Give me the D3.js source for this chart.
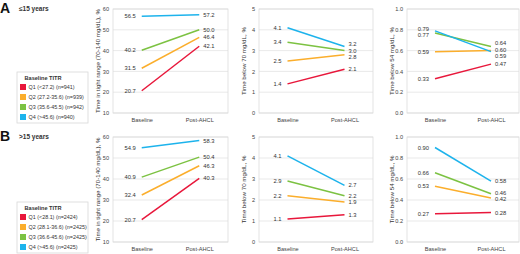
<!DOCTYPE html>
<html>
<head>
<meta charset="utf-8">
<script src="https://cdn.jsdelivr.net/npm/d3@7"></script>
<style>
  body { margin: 0; background: #fff; }
  svg { display: block; font-family: "Liberation Sans", Arial, sans-serif; }
</style>
</head>
<body>
<div id="chart"></div>
<script>
// quartile groups and colours
const groups = ["Q1", "Q2", "Q3", "Q4"];
const groupColors = ["#e8173b", "#fbae2c", "#7cc242", "#1db3ec"];
const timepoints = ["Baseline", "Post-AHCL"];

const legendTitle = "Baseline TITR";
const legendA = ["Q1 (<27.2) (n=941)", "Q2 (27.2-35.6) (n=939)", "Q3 (35.6-45.5) (n=942)", "Q4 (>45.6) (n=940)"];
const legendB = ["Q1 (<28.1) (n=2424)", "Q2 (28.1-36.6) (n=2425)", "Q3 (36.6-45.6) (n=2425)", "Q4 (>45.6) (n=2425)"];

// row A: <=15 years
const tirBaseA = [20.7, 31.5, 40.2, 56.5];
const tirPostA = [42.1, 46.4, 50.0, 57.2];
const tb70BaseA = [1.4, 2.5, 3.4, 4.1];
const tb70PostA = [2.1, 2.8, 3.0, 3.2];
const tb54BaseA = [0.33, 0.59, 0.77, 0.79];
const tb54PostA = [0.47, 0.60, 0.64, 0.59];

// row B: >15 years
const tirBaseB = [20.7, 32.4, 40.9, 54.9];
const tirPostB = [40.3, 46.3, 50.4, 58.3];
const tb70BaseB = [1.1, 2.2, 2.9, 4.1];
const tb70PostB = [1.3, 1.9, 2.2, 2.7];
const tb54BaseB = [0.27, 0.53, 0.66, 0.90];
const tb54PostB = [0.28, 0.42, 0.46, 0.58];

const tirTicks = [10, 20, 30, 40, 50, 60];
const tb70Ticks = [0, 1, 2, 3, 4, 5];
const tb54Ticks = [0, 0.2, 0.4, 0.6, 0.8, 1.0];

const svg = d3.select("#chart").append("svg")
    .attr("width", 520)
    .attr("height", 254);

const columns = [
    {x0: 113, x1: 228, title: "Time in tight range (70-140 mg/dL), %", ticks: tirTicks, fmt: d3.format("d"), vfmt: d3.format(".1f")},
    {x0: 259, x1: 373, title: "Time below 70 mg/dL, %", ticks: tb70Ticks, fmt: d3.format("d"), vfmt: d3.format(".1f")},
    {x0: 407, x1: 519, title: "Time below 54 mg/dL, %", ticks: tb54Ticks, fmt: d3.format(".1f"), vfmt: d3.format(".2f")}
];

const rows = [
    {y0: 9, y1: 113, letter: "A", label: "\u226415 years", legend: legendA, legendY: 72,
     data: [[tirBaseA, tirPostA], [tb70BaseA, tb70PostA], [tb54BaseA, tb54PostA]]},
    {y0: 137, y1: 242, letter: "B", label: ">15 years", legend: legendB, legendY: 202,
     data: [[tirBaseB, tirPostB], [tb70BaseB, tb70PostB], [tb54BaseB, tb54PostB]]}
];

// spread overlapping value labels apart
function spread(ys, gap) {
    let idx = ys.map((y, i) => i).sort((a, b) => ys[a] - ys[b]);
    let out = ys.slice();
    for (let it = 0; it < 20; it++) {
        for (let k = 1; k < idx.length; k++) {
            let a = idx[k - 1], b = idx[k];
            let d = out[b] - out[a];
            if (d < gap) {
                out[a] -= (gap - d) / 2;
                out[b] += (gap - d) / 2;
            }
        }
    }
    return out;
}

function drawPanel(col, row, base, post) {
    let g = svg.append("g");
    let ext = d3.extent(col.ticks);
    let y = d3.scaleLinear().domain(ext).range([row.y1, row.y0]);
    let x = d3.scalePoint().domain(timepoints).range([col.x0, col.x1]).padding(0.5);

    // gridlines
    g.selectAll(".grid").data(col.ticks).enter().append("line")
        .attr("x1", col.x0).attr("x2", col.x1)
        .attr("y1", d => y(d)).attr("y2", d => y(d))
        .attr("stroke", "#e3e3e3").attr("stroke-width", 0.8);

    g.append("rect")
        .attr("x", col.x0).attr("y", row.y0)
        .attr("width", col.x1 - col.x0).attr("height", row.y1 - row.y0)
        .attr("fill", "none").attr("stroke", "#dcdcdc").attr("stroke-width", 0.8);

    let yAxis = d3.axisLeft(y).tickValues(col.ticks).tickFormat(col.fmt).tickSize(0).tickPadding(4);
    let ya = g.append("g").attr("transform", "translate(" + col.x0 + ",0)").call(yAxis);
    ya.select(".domain").remove();
    ya.selectAll("text").attr("font-size", 5.6).attr("fill", "#444").attr("font-family", "Liberation Sans, Arial, sans-serif");

    let xAxis = d3.axisBottom(x).tickSize(0).tickPadding(5);
    let xa = g.append("g").attr("transform", "translate(0," + row.y1 + ")").call(xAxis);
    xa.select(".domain").remove();
    xa.selectAll("text").attr("font-size", 5.6).attr("fill", "#444").attr("font-family", "Liberation Sans, Arial, sans-serif");

    g.append("text")
        .attr("transform", "translate(" + (col.x0 - 13) + "," + ((row.y0 + row.y1) / 2) + ") rotate(-90)")
        .attr("text-anchor", "middle")
        .attr("font-size", 6.2)
        .attr("fill", "#333")
        .text(col.title);

    let lines = groups.map((q, i) => ({q: q, color: groupColors[i], v: [base[i], post[i]]}));

    g.selectAll(".series").data(lines).enter().append("line")
        .attr("x1", x(timepoints[0])).attr("x2", x(timepoints[1]))
        .attr("y1", d => y(d.v[0])).attr("y2", d => y(d.v[1]))
        .attr("stroke", d => d.color).attr("stroke-width", 1.5);

    let by = spread(base.map(v => y(v)), 6.5);
    let py = spread(post.map(v => y(v)), 6.5);

    g.selectAll(".blab").data(base).enter().append("text")
        .attr("x", x(timepoints[0]) - 6)
        .attr("y", (d, i) => by[i])
        .attr("dy", "0.35em")
        .attr("text-anchor", "end")
        .attr("font-size", 5.8).attr("fill", "#333")
        .text(d => col.vfmt(d));

    g.selectAll(".plab").data(post).enter().append("text")
        .attr("x", x(timepoints[1]) + 4)
        .attr("y", (d, i) => py[i])
        .attr("dy", "0.35em")
        .attr("font-size", 5.8).attr("fill", "#333")
        .text(d => col.vfmt(d));
}

function drawLegend(row) {
    let g = svg.append("g").attr("transform", "translate(17," + row.legendY + ")");
    g.append("rect")
        .attr("width", 71).attr("height", 51)
        .attr("fill", "#fff").attr("stroke", "#d8d8d8").attr("stroke-width", 0.8);
    g.append("text")
        .attr("x", 26).attr("y", 8)
        .attr("text-anchor", "middle")
        .attr("font-size", 5.6).attr("font-weight", "bold").attr("fill", "#333")
        .text(legendTitle);
    let items = g.selectAll(".item").data(row.legend).enter().append("g")
        .attr("transform", (d, i) => "translate(3," + (12 + i * 10) + ")");
    items.append("rect")
        .attr("width", 6).attr("height", 6)
        .attr("fill", (d, i) => groupColors[i]);
    items.append("text")
        .attr("x", 8.5).attr("y", 3).attr("dy", "0.35em")
        .attr("font-size", 5.4).attr("fill", "#333")
        .text(d => d);
}

rows.forEach(row => {
    svg.append("text")
        .attr("x", 0).attr("y", row.y0 + 4)
        .attr("font-size", 14).attr("font-weight", "bold").attr("fill", "#111")
        .text(row.letter);
    svg.append("text")
        .attr("x", 19).attr("y", row.y0 + 2)
        .attr("font-size", 6.5).attr("font-weight", "bold").attr("fill", "#333")
        .text(row.label);
    columns.forEach((col, c) => drawPanel(col, row, row.data[c][0], row.data[c][1]));
    drawLegend(row);
});
</script>
</body>
</html>
